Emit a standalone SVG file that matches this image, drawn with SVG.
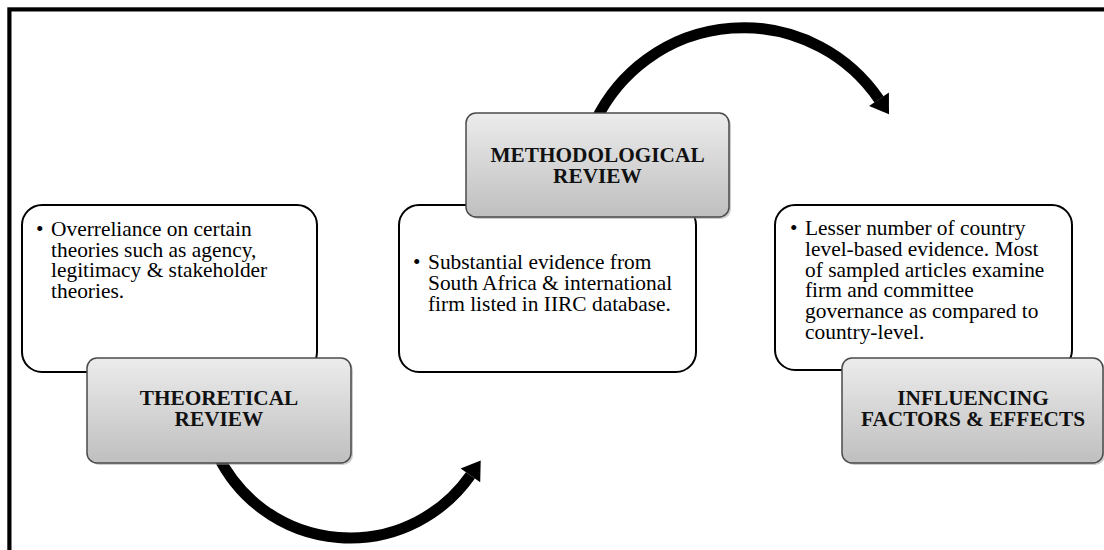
<svg xmlns="http://www.w3.org/2000/svg" width="1104" height="550" viewBox="0 0 1104 550">
<defs>
<linearGradient id="hg" x1="0" y1="0" x2="0" y2="1">
<stop offset="0" stop-color="#ececec"/>
<stop offset="1" stop-color="#bfbfbf"/>
</linearGradient>
<style>
.tb{fill:#fff;stroke:#000;stroke-width:2}
.hb{fill:url(#hg);stroke:#4a4a4a;stroke-width:1.5}
.sh{fill:#9a9a9a;opacity:0.5}
.body{font-family:"Liberation Serif","Times New Roman",serif;font-size:21.4px;fill:#000}
.head{font-family:"Liberation Serif","Times New Roman",serif;font-size:21.3px;font-weight:bold;fill:#111;text-anchor:middle}
.arc{fill:none;stroke:#000;stroke-width:11}
</style>
</defs>
<rect x="0" y="0" width="1104" height="550" fill="#fff"/>
<g id="frame">
<path d="M7.5,560 V7.5 H1110" fill="none" stroke="#999" stroke-width="1"/>
<path d="M9.5,560 V9.5 H1110" fill="none" stroke="#000" stroke-width="4"/>
</g>
<g id="connectors">
<path class="arc" d="M217.7,455 A147,147 0 0 0 470.4,475.3"/>
<polygon points="480.7,460.6 480.2,482.2 460.6,468.4" fill="#000"/>
<path class="arc" d="M596,120 A164,164 0 0 1 879,99.3"/>
<polygon points="889,114.2 888.9,92.6 869.1,106" fill="#000"/>
</g>
<g id="theoretical">
<rect class="tb" x="22" y="205" width="295" height="167" rx="20"/>
<text class="body"><tspan x="36" y="236">•</tspan><tspan x="51" y="236">Overreliance on certain</tspan><tspan x="51" y="257">theories such as agency,</tspan><tspan x="51" y="277">legitimacy &amp; stakeholder</tspan><tspan x="51" y="298">theories.</tspan></text>
<rect class="sh" x="89" y="360" width="264" height="105" rx="10"/>
<rect class="hb" x="87" y="358" width="264" height="105" rx="10"/>
<text class="head"><tspan x="219" y="405">THEORETICAL</tspan><tspan x="219" y="426">REVIEW</tspan></text>
</g>
<g id="methodological">
<rect class="tb" x="399" y="205" width="297" height="167" rx="20"/>
<text class="body"><tspan x="413" y="269">•</tspan><tspan x="428" y="269">Substantial evidence from</tspan><tspan x="428" y="290">South Africa &amp; international</tspan><tspan x="428" y="311">firm listed in IIRC database.</tspan></text>
<rect class="sh" x="468" y="115" width="263" height="104" rx="10"/>
<rect class="hb" x="466" y="113" width="263" height="104" rx="10"/>
<text class="head"><tspan x="597.5" y="162">METHODOLOGICAL</tspan><tspan x="597.5" y="183">REVIEW</tspan></text>
</g>
<g id="influencing">
<rect class="tb" x="775" y="205" width="297" height="165" rx="20"/>
<text class="body"><tspan x="790" y="235">•</tspan><tspan x="805" y="235">Lesser number of country</tspan><tspan x="805" y="256">level-based evidence. Most</tspan><tspan x="805" y="277">of sampled articles examine</tspan><tspan x="805" y="297">firm and committee</tspan><tspan x="805" y="318">governance as compared to</tspan><tspan x="805" y="339">country-level.</tspan></text>
<rect class="sh" x="844" y="360" width="261" height="105" rx="10"/>
<rect class="hb" x="842" y="358" width="261" height="105" rx="10"/>
<text class="head"><tspan x="973" y="405">INFLUENCING</tspan><tspan x="973" y="426">FACTORS &amp; EFFECTS</tspan></text>
</g>
</svg>
